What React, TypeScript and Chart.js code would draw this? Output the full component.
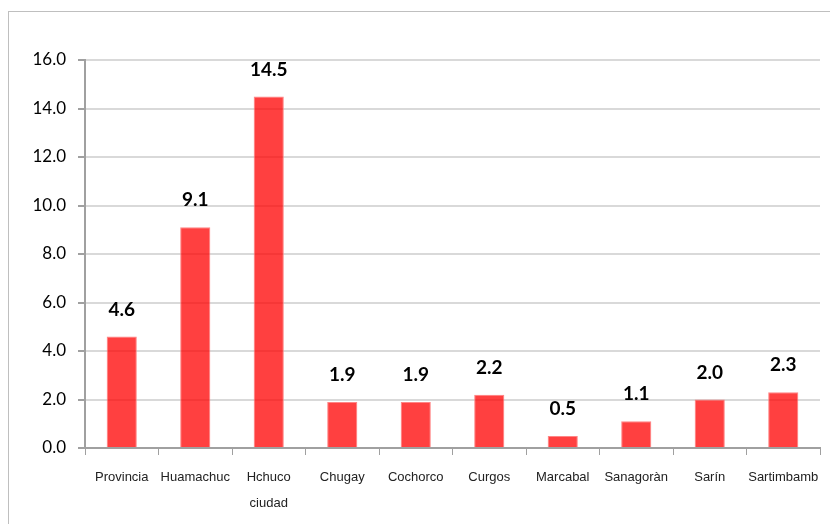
import React, { useEffect, useRef } from "react";
import { Chart, registerables } from "chart.js";

Chart.register(...registerables);

const categories: (string | string[])[] = [
  "Provincia",
  "Huamachuc",
  ["Hchuco", "ciudad"],
  "Chugay",
  "Cochorco",
  "Curgos",
  "Marcabal",
  "Sanagoràn",
  "Sarín",
  "Sartimbamb",
];
const values: number[] = [4.6, 9.1, 14.5, 1.9, 1.9, 2.2, 0.5, 1.1, 2.0, 2.3];
const yTicks: number[] = [0, 2, 4, 6, 8, 10, 12, 14, 16];

const valueLabels = {
  id: "valueLabels",
  afterDatasetsDraw(chart: any) {
    const ctx = chart.ctx;
    const meta = chart.getDatasetMeta(0);
    ctx.save();
    ctx.font = "bold 19px Lato";
    ctx.fillStyle = "#000";
    ctx.textAlign = "center";
    ctx.textBaseline = "middle";
    meta.data.forEach((bar: any, i: number) => {
      ctx.fillText(values[i].toFixed(1), bar.x, bar.y - 27);
    });
    ctx.restore();
  },
};

export default function App() {
  const ref = useRef<HTMLCanvasElement | null>(null);
  useEffect(() => {
    if (!ref.current) return;
    const chart = new Chart(ref.current, {
      type: "bar",
      data: {
        labels: categories,
        datasets: [
          {
            data: values,
            backgroundColor: "rgba(255,0,0,0.75)",
            borderColor: "rgba(255,120,120,0.9)",
            borderWidth: 1,
            categoryPercentage: 1,
            barPercentage: 0.41,
          },
        ],
      },
      options: {
        animation: false,
        responsive: false,
        maintainAspectRatio: false,
        layout: { padding: { top: 60, right: 10, bottom: 0, left: 0 } },
        plugins: { legend: { display: false }, tooltip: { enabled: false } },
        scales: {
          x: {
            afterFit: (s: any) => {
              s.height = 76;
            },
            grid: {
              display: true,
              drawOnChartArea: false,
              offset: true,
              tickLength: 7,
              tickColor: "#a0a0a0",
              color: "#a0a0a0",
            },
            border: { color: "#a0a0a0", width: 2 },
            ticks: {
              autoSkip: false,
              maxRotation: 0,
              minRotation: 0,
              padding: 9,
              color: "#222",
              font: { family: "'Liberation Sans', Arial, sans-serif", size: 13, lineHeight: "26px" },
            },
          },
          y: {
            min: 0,
            max: 16,
            afterFit: (s: any) => {
              s.width = 85;
            },
            afterBuildTicks: (s: any) => {
              s.ticks = yTicks.map((v) => ({ value: v }));
            },
            grid: {
              color: "#d9d9d9",
              lineWidth: 2,
              tickLength: 7,
              tickColor: "#a0a0a0",
            },
            border: { color: "#a0a0a0", width: 2 },
            ticks: {
              padding: 12,
              color: "#000",
              font: { family: "Lato", size: 17 },
              callback: (v: any) => Number(v).toFixed(1),
            },
          },
        },
      },
      plugins: [valueLabels],
    });
    return () => chart.destroy();
  }, []);
  return (
    <div style={{ position: "fixed", left: 0, top: 0, width: 830, height: 524, background: "#fff", overflow: "hidden" }}>
      <div
        style={{
          position: "absolute",
          left: 8,
          top: 11,
          width: 840,
          height: 540,
          border: "1.5px solid #bfbfbf",
          boxSizing: "border-box",
        }}
      />
      <canvas ref={ref} width={830} height={524} style={{ position: "absolute", left: 0, top: 0 }} />
    </div>
  );
}
